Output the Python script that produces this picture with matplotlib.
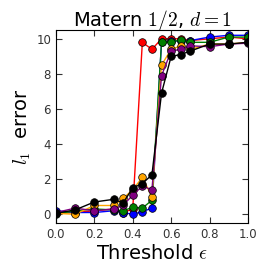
import matplotlib
matplotlib.use("Agg")
from matplotlib import pyplot as plt

plt.rcParams['mathtext.fontset'] = 'cm'
plt.rcParams['font.family'] = 'DejaVu Sans'

thresholds = [0.0, 0.1, 0.2, 0.3, 0.35, 0.4, 0.45, 0.5, 0.55, 0.6, 0.65, 0.7, 0.8, 0.9, 1.0]

err_red = [0.05, 0.1, 0.2, 0.3, 0.1, 0.3, 9.8, 9.4, 10.0, 10.0, 10.0, 9.9, 10.0, 10.1, 10.0]
err_blue = [0.2, 0.1, 0.1, 0.2, 0.1, 0.0, 0.15, 0.35, 9.8, 9.85, 9.9, 9.9, 10.1, 10.2, 10.2]
err_green = [0.0, 0.2, 0.3, 0.25, 0.2, 0.4, 0.35, 0.8, 9.8, 9.8, 9.95, 9.8, 9.8, 10.1, 10.1]
err_orange = [0.05, 0.0, 0.5, 0.5, 0.9, 1.4, 2.1, 1.0, 8.5, 9.4, 9.6, 9.4, 9.7, 9.7, 9.8]
err_purple = [0.1, 0.35, 0.2, 0.3, 0.5, 1.1, 1.6, 1.4, 7.9, 9.3, 9.4, 9.6, 9.55, 9.7, 9.75]
err_black = [0.05, 0.25, 0.7, 0.85, 0.65, 1.5, 1.75, 2.25, 6.9, 9.0, 9.1, 9.3, 9.7, 9.7, 9.8]

series = [
    (err_red, 'red'),
    (err_blue, 'blue'),
    (err_green, 'green'),
    (err_orange, 'orange'),
    (err_purple, 'purple'),
    (err_black, 'black'),
]

fig = plt.figure(figsize=(2.64, 2.73), dpi=100)
ax = fig.add_axes([0.212, 0.183, 0.727, 0.707])

for vals, col in series:
    ax.plot(thresholds, vals, '-o', color=col, lw=1, markersize=5.5,
            markeredgecolor='black', markeredgewidth=0.5)

ax.set_xlim(0, 1)
ax.set_ylim(-0.5, 10.5)
ax.set_xticks([0.0, 0.2, 0.4, 0.6, 0.8, 1.0])
ax.set_yticks([0, 2, 4, 6, 8, 10])
ax.tick_params(direction='in', top=True, right=True, labelsize=8.5, length=4,
               colors='#333333', labelcolor='#333333')
ax.set_title(r'Matern $1/2$, $d=1$', fontsize=14, pad=3)
ax.set_xlabel(r'Threshold $\epsilon$', fontsize=14, labelpad=2)
ax.set_ylabel(r'$l_1$  error', fontsize=14, labelpad=2)

fig.savefig('out.png', dpi=100)
